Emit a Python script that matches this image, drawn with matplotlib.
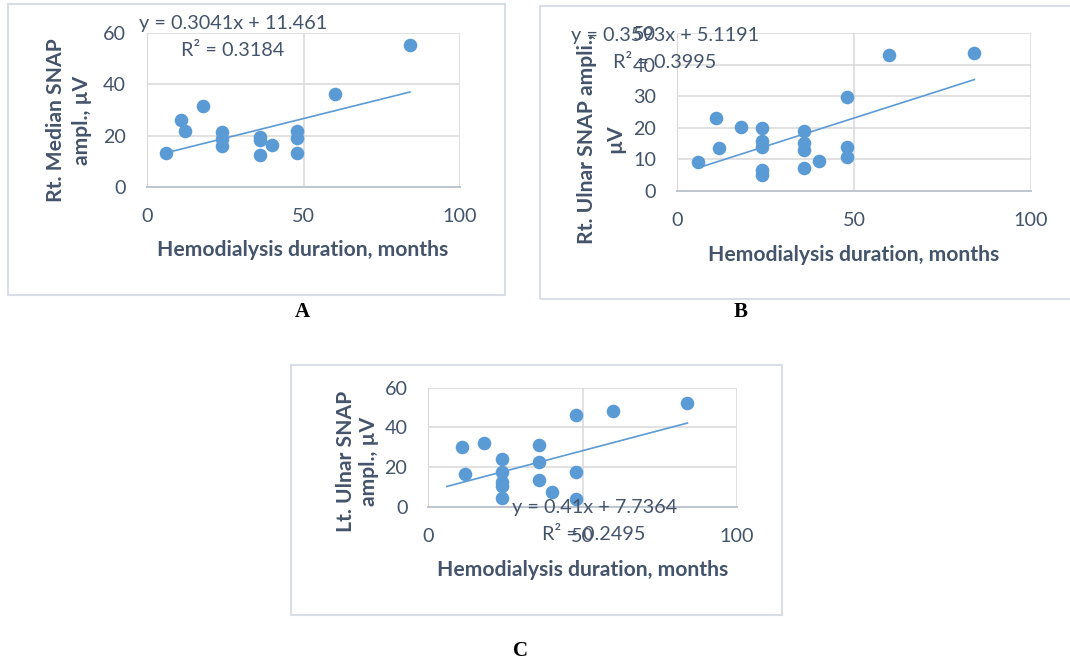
import matplotlib
matplotlib.use("Agg")
import matplotlib.pyplot as plt
from matplotlib.patches import Rectangle

# canvas size in pixels (dpi 100)
W, H = 1070, 662

# Hemodialysis duration (months) vs SNAP amplitude (uV)
months_a = [6, 11, 12, 18, 24, 24, 24, 36, 36, 36, 40, 48, 48, 48, 60, 84]
snap_a = [13.2, 26.2, 22.0, 31.6, 21.4, 18.8, 16.0, 19.5, 18.2, 12.3, 16.2, 21.7, 19.2, 13.2, 36.1, 55.2]

months_b = [6, 11, 12, 18, 24, 24, 24, 24, 24, 36, 36, 36, 36, 40, 48, 48, 48, 60, 84]
snap_b = [9.2, 23.0, 13.5, 20.2, 20.0, 15.7, 14.0, 6.6, 5.0, 19.1, 15.1, 12.9, 7.3, 9.5, 29.9, 14.0, 10.8, 43.0, 43.9]

months_c = [11, 12, 18, 24, 24, 24, 24, 24, 36, 36, 36, 40, 48, 48, 48, 60, 84]
snap_c = [30.3, 16.6, 32.3, 24.2, 17.6, 12.6, 10.4, 4.5, 31.1, 22.4, 13.3, 7.2, 46.2, 17.3, 3.9, 48.2, 52.1]

# linear trendlines (slope, intercept, R^2) as printed on the charts
trend_a = (0.3041, 11.461, 0.3184)
trend_b = (0.3593, 5.1191, 0.3995)
trend_c = (0.41, 7.7364, 0.2495)
trend_span = [6, 84]

ylabel_a = "Rt. Median SNAP\nampl., µV"
ylabel_b = "Rt. Ulnar SNAP ampli.,\nµV"
ylabel_c = "Lt. Ulnar SNAP\nampl., µV"
xlabel = "Hemodialysis duration, months"

BLUE = "#5B9BD5"
TXT = "#44546A"
GRID = "#D9D9D9"
FRAME = "#D9DEE6"
FONT = "Lato"


def fx(x):
    return x / W


def fy(y):
    return 1 - y / H


def rect(x0, y0, x1, y1):
    return [fx(x0), fy(y1), (x1 - x0) / W, (y1 - y0) / H]


def draw_panel(fig, box, months, amps, trend, ymax, ystep):
    ax = fig.add_axes(rect(*box))
    ax.plot(months, amps, 'o', color=BLUE, markersize=9.8, markeredgewidth=0, zorder=3)
    slope, icpt, _ = trend
    ty = [slope * t + icpt for t in trend_span]
    ax.plot(trend_span, ty, color=BLUE, lw=1.2, zorder=2)
    ax.set_xlim(0, 100)
    ax.set_ylim(0, ymax)
    ax.set_xticks([0, 50, 100])
    ax.set_yticks(range(0, ymax + 1, ystep))
    ax.grid(True, color=GRID, lw=1.1)
    ax.set_axisbelow(True)
    for s in ['top', 'right']:
        ax.spines[s].set_visible(False)
    ax.spines['left'].set_color(GRID)
    ax.spines['bottom'].set_color('#BFC5CF')
    ax.spines['bottom'].set_linewidth(1.4)
    ax.tick_params(length=0, labelsize=14.2, labelcolor=TXT)
    ax.tick_params(axis='y', pad=15)
    ax.tick_params(axis='x', pad=15)
    for lab in ax.get_xticklabels() + ax.get_yticklabels():
        lab.set_fontfamily(FONT)
    ax.set_facecolor('none')
    return ax


fig = plt.figure(figsize=(W / 100, H / 100), dpi=100)

# outer frames around each chart
for x0, y0, x1, y1 in [(8, 4, 505, 295), (540, 6, 1080, 299), (291, 365, 782, 615)]:
    fig.add_artist(Rectangle((fx(x0), fy(y1)), (x1 - x0) / W, (y1 - y0) / H,
                             transform=fig.transFigure, fill=False, ec=FRAME, lw=1.5))

draw_panel(fig, (147, 33, 460, 187), months_a, snap_a, trend_a, 60, 20)
draw_panel(fig, (677, 33.3, 1031, 190.7), months_b, snap_b, trend_b, 50, 10)
draw_panel(fig, (428.3, 387.7, 736.7, 506.7), months_c, snap_c, trend_c, 60, 20)

lab_kw = dict(fontsize=15.2, fontweight='bold', color=TXT, family=FONT, ha='center', va='center')
fig.text(fx(303), fy(250), xlabel, **lab_kw)
fig.text(fx(854), fy(255), xlabel, **lab_kw)
fig.text(fx(583), fy(570), xlabel, **lab_kw)
fig.text(fx(69), fy(120), ylabel_a, rotation=90, multialignment='center', linespacing=1.35, **lab_kw)
fig.text(fx(601), fy(139), ylabel_b, rotation=90, multialignment='center', linespacing=1.5, **lab_kw)
fig.text(fx(357.5), fy(461), ylabel_c, rotation=90, multialignment='center', linespacing=1.15, **lab_kw)

# trendline equations
eq_kw = dict(fontsize=14.3, color=TXT, family=FONT, ha='center', va='center')
for (slope, icpt, r2), (ex, ey), (rx, ry) in [(trend_a, (233, 23), (233, 51)),
                                              (trend_b, (665, 35), (665, 63)),
                                              (trend_c, (595, 508), (594, 535))]:
    fig.text(fx(ex), fy(ey), f"y = {slope:g}x + {icpt:g}", **eq_kw)
    fig.text(fx(rx), fy(ry), f"R² = {r2:g}", **eq_kw)

# panel letters
let_kw = dict(fontsize=15, fontweight='bold', family='Liberation Serif', color='black', ha='center', va='center')
fig.text(fx(302), fy(312), "A", **let_kw)
fig.text(fx(741), fy(312), "B", **let_kw)
fig.text(fx(521), fy(651), "C", **let_kw)

fig.savefig("out.png", dpi=100)
